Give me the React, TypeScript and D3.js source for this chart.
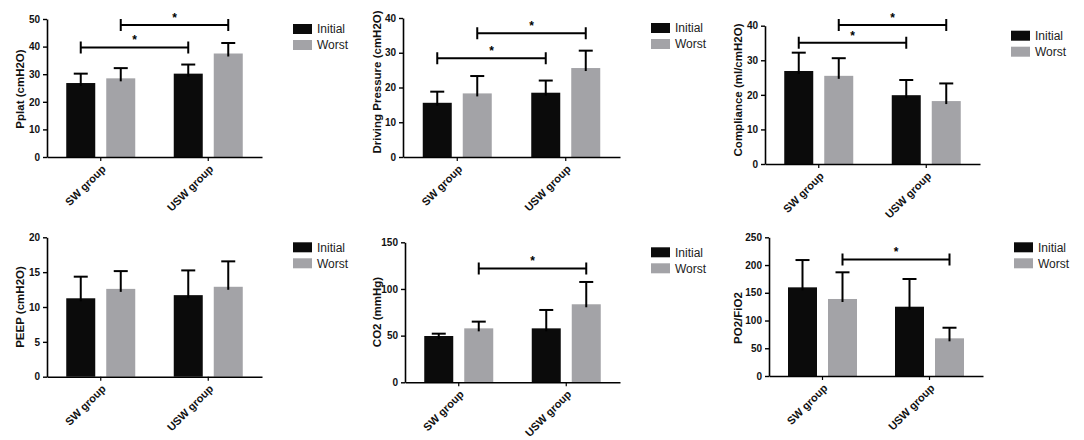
import { useRef, useEffect } from "react";
import * as d3 from "d3";

const groups = ["SW group", "USW group"];
const seriesNames = ["Initial", "Worst"];
const seriesColors = ["#0b0b0b", "#a3a3a7"];

// means and SDs, ordered [SW group, USW group]
const pplatInitial = [26.8, 30.2];
const pplatInitialSD = [3.4, 3.3];
const pplatWorst = [28.5, 37.5];
const pplatWorstSD = [3.7, 3.8];

const drivingInitial = [15.6, 18.5];
const drivingInitialSD = [3.2, 3.5];
const drivingWorst = [18.3, 25.6];
const drivingWorstSD = [5.0, 5.0];

const complianceInitial = [26.9, 19.9];
const complianceInitialSD = [5.3, 4.4];
const complianceWorst = [25.5, 18.2];
const complianceWorstSD = [5.1, 5.1];

const peepInitial = [11.25, 11.7];
const peepInitialSD = [3.1, 3.55];
const peepWorst = [12.6, 12.9];
const peepWorstSD = [2.55, 3.65];

const co2Initial = [49.6, 57.8];
const co2InitialSD = [2.5, 19.7];
const co2Worst = [57.8, 83.6];
const co2WorstSD = [7.2, 23.9];

const pfInitial = [159.8, 124.9];
const pfInitialSD = [49.2, 49.9];
const pfWorst = [138.8, 67.9];
const pfWorstSD = [48.1, 19.1];

// significance brackets: which series is compared between groups, and at what height
const pplatSig = [{ series: 0, at: 39.7 }, { series: 1, at: 47.8 }];
const drivingSig = [{ series: 0, at: 28.4 }, { series: 1, at: 35.6 }];
const complianceSig = [{ series: 0, at: 35.1 }, { series: 1, at: 40.2 }];
const peepSig: { series: number; at: number }[] = [];
const co2Sig = [{ series: 1, at: 122 }];
const pfSig = [{ series: 1, at: 210 }];

const panels = [
  { label: "Pplat (cmH2O)", max: 50, step: 10, means: [pplatInitial, pplatWorst], sds: [pplatInitialSD, pplatWorstSD], sig: pplatSig, left: 47, top: 19, bottom: 157, right: 262, labelX: 20, labelY: 89 },
  { label: "Driving Pressure (cmH2O)", max: 40, step: 10, means: [drivingInitial, drivingWorst], sds: [drivingInitialSD, drivingWorstSD], sig: drivingSig, left: 403, top: 18, bottom: 157, right: 620, labelX: 377, labelY: 82 },
  { label: "Compliance (ml/cmH2O)", max: 40, step: 10, means: [complianceInitial, complianceWorst], sds: [complianceInitialSD, complianceWorstSD], sig: complianceSig, left: 765, top: 25.7, bottom: 164, right: 980, labelX: 738, labelY: 90 },
  { label: "PEEP (cmH2O)", max: 20, step: 5, means: [peepInitial, peepWorst], sds: [peepInitialSD, peepWorstSD], sig: peepSig, left: 47, top: 237.3, bottom: 376.7, right: 262, labelX: 20, labelY: 307 },
  { label: "CO2 (mmHg)", max: 150, step: 50, means: [co2Initial, co2Worst], sds: [co2InitialSD, co2WorstSD], sig: co2Sig, left: 405, top: 242.3, bottom: 382.3, right: 620, labelX: 377, labelY: 312 },
  { label: "PO2/FiO2", max: 250, step: 50, means: [pfInitial, pfWorst], sds: [pfInitialSD, pfWorstSD], sig: pfSig, left: 769, top: 237.3, bottom: 376, right: 983, labelX: 738, labelY: 318 },
];

const FONT = "'Liberation Sans', Arial, sans-serif";

export default function App() {
  const ref = useRef<SVGSVGElement>(null);
  useEffect(() => {
    if (!ref.current) return;
    const svg = d3.select(ref.current);
    svg.selectAll("*").remove();
    svg.append("rect").attr("width", 1084).attr("height", 440).attr("fill", "#fff");

    panels.forEach((p) => {
      const g = svg.append("g");
      const y = d3.scaleLinear().domain([0, p.max]).range([p.bottom, p.top]);
      const x0 = d3.scaleBand().domain(groups).range([p.left, p.right]).padding(0);
      const x1 = d3.scaleBand().domain(seriesNames).range([-34.5, 34.5]).paddingInner(0.275);
      const center = (gi: number) => x0(groups[gi])! + x0.bandwidth() / 2;
      const barMid = (gi: number, si: number) => center(gi) + x1(seriesNames[si])! + x1.bandwidth() / 2;

      // bars
      seriesNames.forEach((s, si) => {
        g.selectAll(null)
          .data(p.means[si])
          .enter()
          .append("rect")
          .attr("x", (_, gi) => center(gi) + x1(s)!)
          .attr("width", x1.bandwidth())
          .attr("y", (d) => y(d))
          .attr("height", (d) => p.bottom - y(d))
          .attr("fill", seriesColors[si]);
      });

      // error bars (upper only)
      seriesNames.forEach((_, si) => {
        p.means[si].forEach((m, gi) => {
          const cx = barMid(gi, si);
          const top = y(m + p.sds[si][gi]);
          g.append("line").attr("x1", cx).attr("x2", cx).attr("y1", y(m) + 3).attr("y2", top)
            .attr("stroke", "#000").attr("stroke-width", 2);
          g.append("line").attr("x1", cx - 7).attr("x2", cx + 7).attr("y1", top).attr("y2", top)
            .attr("stroke", "#000").attr("stroke-width", 2);
        });
      });

      // y axis
      const yAxis = g.append("g")
        .attr("transform", `translate(${p.left},0)`)
        .call(d3.axisLeft(y).tickValues(d3.range(0, p.max + p.step, p.step)).tickSize(4).tickSizeOuter(0).tickPadding(3));
      yAxis.select(".domain").attr("stroke-width", 1.6);
      yAxis.selectAll(".tick line").attr("stroke-width", 1.4);
      yAxis.selectAll("text").style("font-family", FONT).style("font-size", "10px").style("font-weight", "bold").attr("fill", "#111");

      // x axis
      const xAxis = g.append("g")
        .attr("transform", `translate(0,${p.bottom})`)
        .call(d3.axisBottom(x0).tickSize(4).tickSizeOuter(0).tickFormat(() => ""));
      xAxis.select(".domain").attr("stroke-width", 1.6);
      xAxis.selectAll(".tick line").attr("stroke-width", 1.2);

      groups.forEach((name, gi) => {
        const tx = center(gi) + 3;
        const ty = p.bottom + 10;
        g.append("text")
          .attr("transform", `translate(${tx},${ty}) rotate(-45)`)
          .attr("text-anchor", "end")
          .attr("dy", "0.35em")
          .style("font-family", FONT).style("font-size", "11px").style("font-weight", "bold")
          .attr("fill", "#111")
          .text(name);
      });

      // y label
      g.append("text")
        .attr("transform", `translate(${p.labelX},${p.labelY}) rotate(-90)`)
        .attr("text-anchor", "middle")
        .attr("dy", "0.35em")
        .style("font-family", FONT).style("font-size", "11.5px").style("font-weight", "bold")
        .attr("fill", "#111")
        .text(p.label);

      // significance brackets
      p.sig.forEach((s) => {
        const xa = barMid(0, s.series);
        const xb = barMid(1, s.series);
        const by = y(s.at);
        g.append("path")
          .attr("d", `M${xa},${by - 6}V${by + 6}M${xa},${by}H${xb}M${xb},${by - 6}V${by + 6}`)
          .attr("stroke", "#000").attr("stroke-width", 2).attr("fill", "none");
        g.append("text")
          .attr("x", (xa + xb) / 2).attr("y", by - 3)
          .attr("text-anchor", "middle")
          .style("font-family", FONT).style("font-size", "12px").style("font-weight", "bold")
          .text("*");
      });

      // legend
      seriesNames.forEach((name, si) => {
        const ly = p.top + 5 + si * 16;
        g.append("rect").attr("x", p.right + 31).attr("y", ly).attr("width", 19).attr("height", 10).attr("fill", seriesColors[si]);
        g.append("text")
          .attr("x", p.right + 55).attr("y", ly + 5).attr("dy", "0.35em")
          .style("font-family", FONT).style("font-size", "12px")
          .attr("fill", "#222")
          .text(name);
      });
    });
  }, []);

  return (
    <div style={{ position: "absolute", left: 0, top: 0 }}>
      <svg ref={ref} width={1084} height={440} style={{ display: "block" }} />
    </div>
  );
}
